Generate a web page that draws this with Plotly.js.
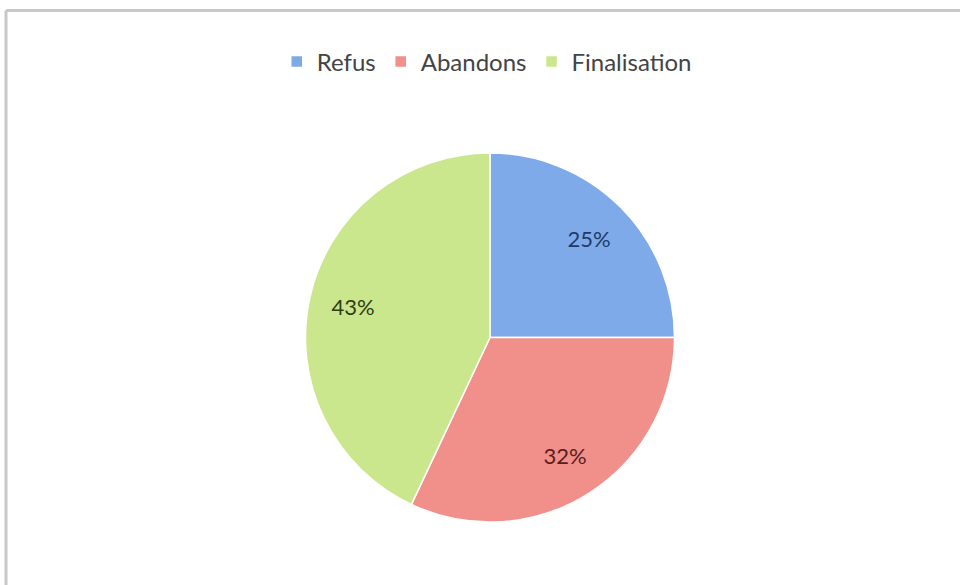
<!DOCTYPE html>
<html>
<head>
<meta charset="utf-8">
<script src="https://cdn.plot.ly/plotly-3.0.1.min.js"></script>
<style>
html,body{margin:0;padding:0;background:#fff;}
#chart{width:960px;height:585px;}
</style>
</head>
<body>
<div id="chart"></div>
<script>
const categories = ["Refus", "Abandons", "Finalisation"];
const values = [25, 32, 43];
const colors = ["#7eaaea", "#f18f8a", "#cbe78e"];
const labelColors = ["#1e3a66", "#5c1c1a", "#2f3d14"];

const pieDomain = {x: [0.3177, 0.7031], y: [0.1077, 0.7385]};

const slices = {
  type: "pie",
  labels: categories,
  values: values,
  sort: false,
  direction: "clockwise",
  rotation: 0,
  textinfo: "none",
  marker: {colors: colors, line: {color: "#ffffff", width: 1.5}},
  domain: pieDomain,
  hoverinfo: "label+percent"
};

// transparent ring carrying the percentage labels further out from centre
const labelsRing = {
  type: "pie",
  labels: categories,
  values: values,
  sort: false,
  direction: "clockwise",
  rotation: 0,
  hole: 0.52,
  showlegend: false,
  textinfo: "percent",
  texttemplate: "%{percent:.0%}",
  textposition: "inside",
  insidetextorientation: "horizontal",
  textfont: {family: "Lato, 'Open Sans', sans-serif", size: 22, color: labelColors},
  marker: {colors: ["rgba(0,0,0,0)", "rgba(0,0,0,0)", "rgba(0,0,0,0)"], line: {width: 0}},
  domain: pieDomain,
  hoverinfo: "skip"
};

const layout = {
  width: 960,
  height: 585,
  margin: {l: 0, r: 0, t: 0, b: 0},
  paper_bgcolor: "#ffffff",
  font: {family: "Lato, 'Open Sans', sans-serif", color: "#333333"},
  showlegend: true,
  legend: {
    orientation: "h",
    x: 0.507, xanchor: "center",
    y: 0.894, yanchor: "middle",
    font: {size: 24, color: "#444444"},
    itemwidth: 30,
    traceorder: "normal"
  },
  shapes: [
    {type: "line", xref: "paper", yref: "paper", x0: 0.00625, x1: 1.01, y0: 0.982, y1: 0.982,
     line: {color: "#c8c8c8", width: 3}},
    {type: "line", xref: "paper", yref: "paper", x0: 0.00625, x1: 0.00625, y0: -0.01, y1: 0.982,
     line: {color: "#c8c8c8", width: 3}}
  ]
};

Plotly.newPlot("chart", [slices, labelsRing], layout, {displayModeBar: false, staticPlot: true});
</script>
</body>
</html>
